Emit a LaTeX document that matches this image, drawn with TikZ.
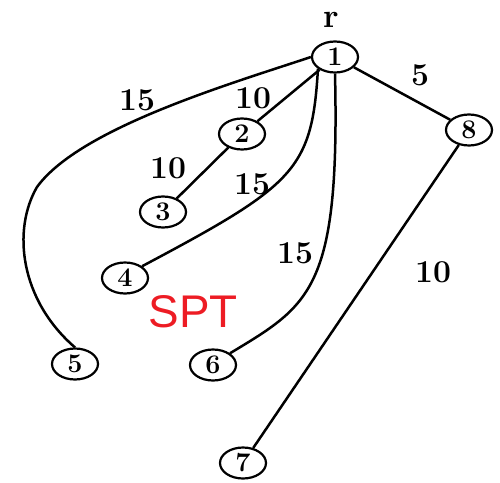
\documentclass[tikz,border=0pt]{standalone}
\usepackage{fontspec}
\newfontfamily\sptfont{Liberation Sans}
\usetikzlibrary{shapes.geometric}
\definecolor{sptred}{RGB}{237,28,36}
\begin{document}
\begin{tikzpicture}[x=1bp,y=-1bp,
  vert/.style={draw,ellipse,line width=2.2bp,minimum width=46bp,minimum height=31bp,inner sep=0pt},
  vtext/.style={font=\fontsize{27}{27}\selectfont\bfseries},
  edge/.style={line width=2.5bp},
  wlabel/.style={font=\fontsize{32}{32}\selectfont\bfseries,inner sep=0pt}]
\useasboundingbox (0,0) rectangle (500,483);
\node[vert,vtext] (n1) at (335,57) {1};
\node[vert,vtext] (n2) at (242,134) {2};
\node[vert,vtext] (n3) at (163,212) {3};
\node[vert,vtext] (n4) at (125,278) {4};
\node[vert,vtext] (n5) at (75,364) {5};
\node[vert,vtext] (n6) at (213,365) {6};
\node[vert,vtext] (n7) at (243,463) {7};
\node[vert,vtext] (n8) at (469,130) {8};
\coordinate (c5) at (37,187);
% edges
\draw[edge] (n1) -- (n2);
\draw[edge] (n2) -- (n3);
\draw[edge] (n1) -- (n8);
\draw[edge] (n8) -- (n7);
\draw[edge] (n1.west) .. controls (230,84) and (80,128) .. (c5)
  .. controls (12,230) and (20,300) .. (n5.north);
\draw[edge] (n1.south west) .. controls (312,170) and (295,185) .. (n4.north east);
\draw[edge] (n1.south) .. controls (340,290) and (310,305) .. (n6.north east);
% labels
\node[wlabel,font=\fontsize{34}{34}\selectfont\bfseries,anchor=base] (r) at (331,28) {r};
\node[wlabel] (w15a) at (137,100) {15};
\node[wlabel] (w10a) at (253,98) {10};
\node[wlabel] (w5) at (420,75) {5};
\node[wlabel] (w10b) at (168,168) {10};
\node[wlabel] (w15b) at (252,184) {15};
\node[wlabel] (w15c) at (295,253) {15};
\node[wlabel] (w10c) at (433,272) {10};
\node[text=sptred,font=\sptfont\fontsize{46}{46}\selectfont,inner sep=0pt] (spt) at (193,312) {SPT};
\end{tikzpicture}
\end{document}
